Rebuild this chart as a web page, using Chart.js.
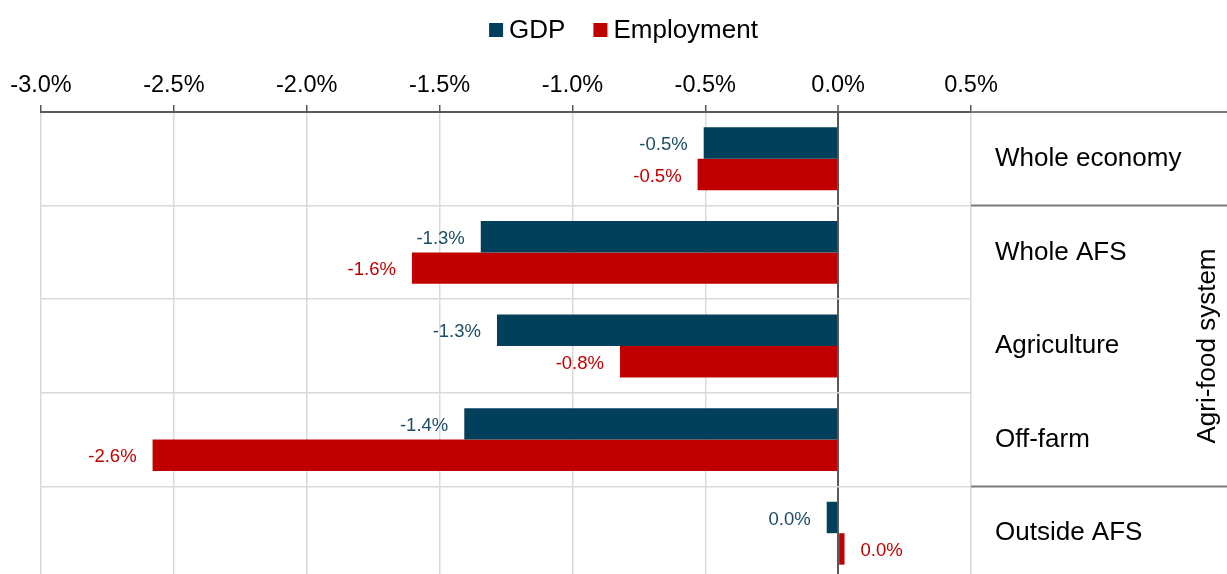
<!DOCTYPE html>
<html>
<head>
<meta charset="utf-8">
<script src="https://cdn.jsdelivr.net/npm/chart.js@4.4.1/dist/chart.umd.min.js"></script>
<style>
  html, body { margin: 0; padding: 0; background: #fff; overflow: hidden; }
  canvas { display: block; }
</style>
</head>
<body>
<canvas id="chart" width="1227" height="582"></canvas>
<script>
'use strict';

// sectors, top to bottom
var categories = ['Whole economy', 'Whole AFS', 'Agriculture', 'Off-farm', 'Outside AFS'];
// change in %, per sector
var gdpChange = [-0.506, -1.345, -1.284, -1.407, -0.043];
var employmentChange = [-0.529, -1.604, -0.821, -2.58, 0.024];
// value axis range and step, in %
var axisMin = -3.0;
var axisMax = 0.5;
var axisStep = 0.5;
// sectors that belong to the agri-food system group
var groupLabel = 'Agri-food system';
var groupFirst = 1;
var groupLast = 3;

var FONT = "'Liberation Sans', Arial, sans-serif";
var GDP_COLOR = '#023F5B';
var EMP_COLOR = '#C00000';

Chart.defaults.font.family = FONT;
Chart.defaults.color = '#000';

function pct(v) {
    var s = v.toFixed(1);
    if (s === '-0.0') s = '0.0';
    return s + '%';
}

// value labels next to the end of each bar
var barLabels = {
    id: 'barLabels',
    afterDatasetsDraw: function (chart) {
        var ctx = chart.ctx;
        ctx.save();
        ctx.font = '18.5px ' + FONT;
        ctx.textBaseline = 'middle';
        chart.data.datasets.forEach(function (ds, di) {
            var meta = chart.getDatasetMeta(di);
            meta.data.forEach(function (bar, i) {
                var v = ds.data[i];
                ctx.fillStyle = ds.labelColor;
                if (v < 0) {
                    ctx.textAlign = 'right';
                    ctx.fillText(pct(v), bar.x - 16, bar.y + 2);
                } else {
                    ctx.textAlign = 'left';
                    ctx.fillText(pct(v), bar.x + 16, bar.y + 2);
                }
            });
        });
        ctx.restore();
    }
};

// legend, group separators and the rotated group title
var decorations = {
    id: 'decorations',
    afterDraw: function (chart) {
        var ctx = chart.ctx;
        var area = chart.chartArea;
        var y = chart.scales.y;
        var w = chart.width;
        var half = (y.getPixelForValue(1) - y.getPixelForValue(0)) / 2;
        var top = y.getPixelForValue(groupFirst) - half;
        var bottom = y.getPixelForValue(groupLast) + half;

        ctx.save();
        ctx.strokeStyle = '#7a7a7a';
        ctx.lineWidth = 2;
        [area.top, top, bottom].forEach(function (py) {
            ctx.beginPath();
            ctx.moveTo(area.right, py);
            ctx.lineTo(w, py);
            ctx.stroke();
        });

        ctx.translate(1208, (top + bottom) / 2);
        ctx.rotate(-Math.PI / 2);
        ctx.font = '26px ' + FONT;
        ctx.fillStyle = '#000';
        ctx.textAlign = 'center';
        ctx.textBaseline = 'middle';
        ctx.fillText(groupLabel, 0, 0);
        ctx.restore();

        // legend
        ctx.save();
        ctx.font = '26px ' + FONT;
        ctx.textBaseline = 'middle';
        ctx.textAlign = 'left';
        var items = chart.data.datasets.map(function (ds) {
            return { text: ds.label, color: ds.backgroundColor, tw: ctx.measureText(ds.label).width };
        });
        var box = 14, gap = 6, spacing = 28;
        var total = 0;
        items.forEach(function (it, i) {
            total += box + gap + it.tw + (i ? spacing : 0);
        });
        var x = w / 2 + 10 - total / 2;
        var cy = 31;
        items.forEach(function (it) {
            ctx.fillStyle = it.color;
            ctx.fillRect(x, cy - 1 - box / 2, box, box);
            ctx.fillStyle = '#000';
            ctx.fillText(it.text, x + box + gap, cy);
            x += box + gap + it.tw + spacing;
        });
        ctx.restore();
    }
};

var chart = new Chart(document.getElementById('chart'), {
    type: 'bar',
    data: {
        labels: categories,
        datasets: [{
            label: 'GDP',
            data: gdpChange,
            backgroundColor: GDP_COLOR,
            labelColor: '#1B4C68',
            categoryPercentage: 0.672,
            barPercentage: 1.0
        }, {
            label: 'Employment',
            data: employmentChange,
            backgroundColor: EMP_COLOR,
            labelColor: EMP_COLOR,
            categoryPercentage: 0.672,
            barPercentage: 1.0
        }]
    },
    plugins: [barLabels, decorations],
    options: {
        indexAxis: 'y',
        responsive: false,
        animation: false,
        layout: { padding: { top: 69, left: 41, right: 0, bottom: 2 } },
        plugins: {
            legend: { display: false },
            tooltip: { enabled: false }
        },
        scales: {
            x: {
                position: 'top',
                min: axisMin,
                max: axisMax,
                afterFit: function (scale) { scale.height = 43; },
                ticks: {
                    stepSize: axisStep,
                    padding: 5,
                    font: { size: 23.5 },
                    color: '#000',
                    callback: function (v) { return pct(v); }
                },
                grid: {
                    color: function (c) { return c.tick && c.tick.value === 0 ? '#595959' : '#d9d9d9'; },
                    lineWidth: function (c) { return c.tick && c.tick.value === 0 ? 2 : 1.5; },
                    tickColor: '#595959',
                    tickLength: 7,
                    tickWidth: 1.5
                },
                border: { color: '#595959', width: 2 }
            },
            y: {
                position: 'right',
                afterFit: function (scale) {
                    scale.width = 256;
                    // labels sit inside their bands, no overflow to reserve
                    scale.paddingTop = 0;
                    scale.paddingBottom = 0;
                },
                ticks: {
                    padding: 24,
                    font: { size: 26 },
                    color: '#000'
                },
                grid: {
                    offset: true,
                    drawTicks: false,
                    color: function (c) { return c.index === 0 ? 'rgba(0,0,0,0)' : '#d9d9d9'; },
                    lineWidth: 1.5
                },
                border: { display: false }
            }
        }
    }
});
</script>
</body>
</html>
